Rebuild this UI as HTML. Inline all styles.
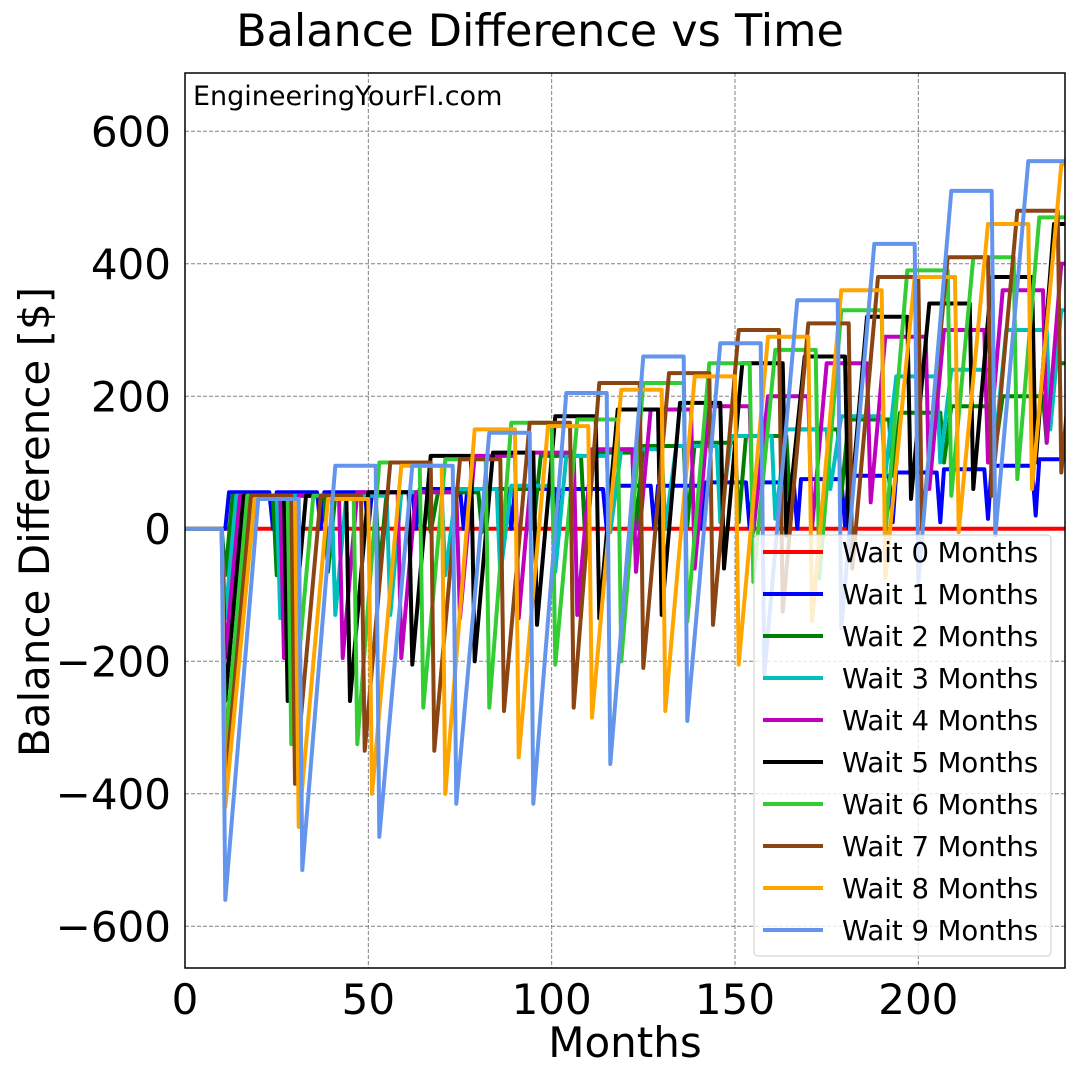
<!DOCTYPE html>
<html><head><meta charset="utf-8">
<style>
html,body{margin:0;padding:0;background:#fff;}
svg text{font-family:"DejaVu Sans","Liberation Sans",sans-serif;}
</style></head>
<body>
<svg id="chart" width="1080" height="1080" viewBox="0 0 1080 1080" xmlns="http://www.w3.org/2000/svg">
<rect width="1080" height="1080" fill="#fff"/>
<text x="540" y="46" font-size="44.5" text-anchor="middle">Balance Difference vs Time</text>
<g id="grid"></g>
<g id="series"></g>
<rect x="185" y="73" width="880" height="895" fill="none" stroke="#000" stroke-width="1.5"/>
<g id="ticks"></g>
<text x="193" y="105" font-size="27">EngineeringYourFI.com</text>
<text x="625" y="1057" font-size="42" text-anchor="middle">Months</text>
<text transform="translate(49,522) rotate(-90)" font-size="42" text-anchor="middle">Balance Difference [$]</text>
<g id="legend"></g>
</svg>
<script>
const seriesNames=["Wait 0 Months","Wait 1 Months","Wait 2 Months","Wait 3 Months","Wait 4 Months","Wait 5 Months","Wait 6 Months","Wait 7 Months","Wait 8 Months","Wait 9 Months"];
const seriesColors=["#ff0000","#0000ff","#008000","#00bfbf","#bf00bf","#000000","#32cd32","#8b4513","#ffa500","#6495ed"];
const xTicks=[0,50,100,150,200];
const yTicks=[-600,-400,-200,0,200,400,600];
const dips1=[0,0,0,0,0,0,0,0,0,0,0,0,0,5,10,10,15,20];
const plat1=[55,55,55,55,60,60,60,60,65,65,70,70,75,80,85,90,95,105];
const dips2=[-70,-70,-65,-65,-5,-5,0,0,0,5,10,40,50,80,100,120,130];
const plat2=[50,50,50,55,55,60,110,115,125,130,140,150,165,175,185,200,250];
const dips3=[-135,-135,-130,-130,-70,-70,-65,-5,0,10,15,60,80,100,130,150];
const plat3=[50,50,50,55,60,65,110,120,125,140,150,170,230,240,300,330];
const dips4=[-195,-195,-195,-195,-135,-135,-130,-65,-60,-5,0,40,60,100,130];
const plat4=[50,50,55,55,110,115,120,180,185,200,250,290,300,360,400];
const dips5=[-260,-260,-260,-205,-200,-145,-135,-130,-60,-10,0,45,60,100];
const plat5=[50,50,55,110,115,170,180,190,250,260,320,340,380,460];
const dips6=[-330,-325,-325,-270,-270,-205,-200,-140,-80,-75,-10,50,75];
const plat6=[50,50,100,105,160,165,220,250,270,330,390,410,470];
const dips7=[-390,-385,-335,-335,-275,-270,-210,-145,-125,-60,0,50,85];
const plat7=[50,50,100,105,160,220,235,300,310,380,410,480,520];
const dips8=[-420,-450,-400,-400,-345,-285,-275,-205,-140,-75,-5,60];
const plat8=[45,45,95,150,155,210,230,290,360,380,460,550];
const dips9=[-560,-515,-465,-415,-415,-355,-290,-220,-150,-80,-10];
const plat9=[45,95,95,145,205,260,280,345,430,510,555];
const allDips=[[],dips1,dips2,dips3,dips4,dips5,dips6,dips7,dips8,dips9];
const allPlats=[[],plat1,plat2,plat3,plat4,plat5,plat6,plat7,plat8,plat9];
const firstDip=11;

const X0=185,X1=1065,Y0=968,Y1=73,xMin=0,xMax=240,yMin=-663,yMax=688;
function xs(v){return X0+(v-xMin)/(xMax-xMin)*(X1-X0);}
function ys(v){return Y0-(v-yMin)/(yMax-yMin)*(Y0-Y1);}
const NS="http://www.w3.org/2000/svg";
function mk(tag,attrs,parent){const e=document.createElementNS(NS,tag);for(const k in attrs)e.setAttribute(k,attrs[k]);parent.appendChild(e);return e;}
const grid=document.getElementById('grid'),ticks=document.getElementById('ticks');
xTicks.forEach(t=>{
  const g=mk('line',{x1:xs(t),x2:xs(t),y1:Y1,y2:Y0,stroke:'#808080','stroke-width':1,'stroke-dasharray':'4,2'},grid);
  
  
  const l=mk('text',{x:xs(t),y:Y0+46,'font-size':42,'text-anchor':'middle'},ticks);
  l.textContent=String(t);
  
  
});
yTicks.forEach(t=>{
  const g=mk('line',{x1:X0,x2:X1,y1:ys(t),y2:ys(t),stroke:'#808080','stroke-width':1,'stroke-dasharray':'4,2'},grid);
  
  
  const l=mk('text',{x:X0-14,y:ys(t)+15,'font-size':42,'text-anchor':'end'},ticks);
  l.textContent=(t<0?'\u2212':'')+Math.abs(t);
  
  
});
const sg=document.getElementById('series');
const clip=mk('clipPath',{id:'pc'},mk('defs',{},sg));
mk('rect',{x:X0,y:Y1,width:X1-X0,height:Y0-Y1},clip);
for(let k=0;k<10;k++){
  let pts=[[0,0],[firstDip-1,0]];
  if(k===0){pts.push([240,0]);}
  else{
    const P=12+k,d=allDips[k],p=allPlats[k];
    for(let n=0;n<d.length;n++){
      const dn=firstDip+n*P;
      pts.push([dn,d[n]]);
      pts.push([dn+k,p[n]]);
      pts.push([dn+P-1,p[n]]);
    }
  }
  const s=pts.map(q=>xs(q[0]).toFixed(1)+','+ys(q[1]).toFixed(1)).join(' ');
  const pl=mk('polyline',{points:s,fill:'none',stroke:seriesColors[k],'stroke-width':4,'stroke-linejoin':'round','clip-path':'url(#pc)'},sg);
  
  
}
const lg=document.getElementById('legend');
const box=mk('rect',{x:754,y:535,width:297,height:421,rx:4,fill:'#fff','fill-opacity':0.8,stroke:'#ccc'},lg);


seriesNames.forEach((nm,i)=>{
  const y=552+i*42;
  const ln=mk('line',{x1:763,x2:823,y1:y,y2:y,stroke:seriesColors[i],'stroke-width':4},lg);
  
  
  const t=mk('text',{x:842,y:y+10,'font-size':27.5},lg);
  t.textContent=nm;
  
  
});
</script>
</body></html>
